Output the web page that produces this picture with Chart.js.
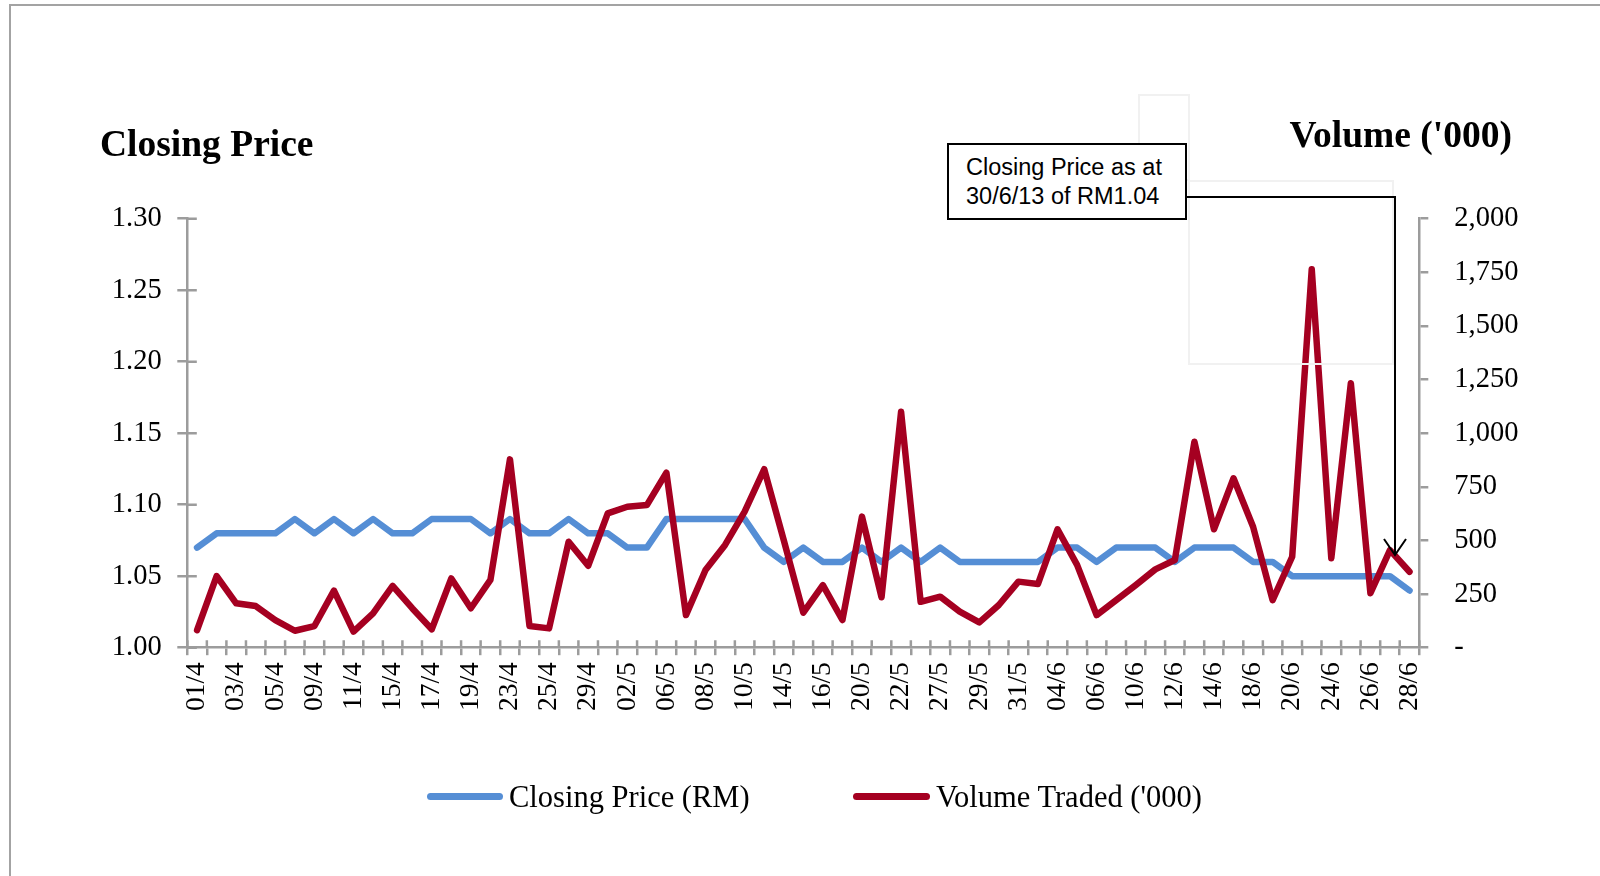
<!DOCTYPE html>
<html>
<head>
<meta charset="utf-8">
<script src="https://cdn.jsdelivr.net/npm/chart.js@4.4.0/dist/chart.umd.min.js"></script>
<style>
  html, body { margin: 0; padding: 0; background: #fff; overflow: hidden; }
  #wrap { position: relative; width: 1600px; height: 876px; }
  #myChart { position: absolute; left: 0; top: 0; }
  .frame { position: absolute; left: 9px; top: 4px; width: 1600px; height: 880px;
           border-top: 2px solid #a3a3a3; border-left: 2px solid #a3a3a3; }
  .ttl { position: absolute; font-family: 'Liberation Serif', 'Times New Roman', serif;
         font-weight: bold; font-size: 37.5px; line-height: 1; color: #000; white-space: nowrap; }
  .leg-line { position: absolute; height: 7px; border-radius: 4px; }
  .leg-txt { position: absolute; font-family: 'Liberation Serif', 'Times New Roman', serif;
             font-size: 30.5px; line-height: 1; color: #000; white-space: nowrap; }
  .note { position: absolute; left: 947px; top: 143px; width: 240px; height: 77px; box-sizing: border-box;
          border: 2px solid #000; background: #fff; padding: 8px 0 0 17px;
          font-family: 'Liberation Sans', Arial, sans-serif; font-size: 23.5px; line-height: 28.6px; color: #000; }
  .faint { position: absolute; border: 2px solid #f1f1f1; box-sizing: border-box; }
</style>
</head>
<body>
<div id="wrap">
  <canvas id="myChart" width="1600" height="876"></canvas>
  <div class="frame"></div>
  <div class="faint" style="left:1138px; top:94px; width:52px; height:87px;"></div>
  <div class="faint" style="left:1188px; top:180px; width:206px; height:185px;"></div>
  <div class="ttl" style="left:100px; top:125px;">Closing Price</div>
  <div class="ttl" style="right:88px; top:116px;">Volume ('000)</div>
  <div class="note">Closing Price as at<br>30/6/13 of RM1.04</div>
  <svg style="position:absolute; left:0; top:0;" width="1600" height="876">
    <polyline points="1187,197 1395,197 1395,555" fill="none" stroke="#000" stroke-width="2"/>
    <polyline points="1384,539 1395,555 1406,539" fill="none" stroke="#000" stroke-width="2"/>
  </svg>
  <div class="leg-line" style="left:427px; top:793px; width:76px; background:#558ed5;"></div>
  <div class="leg-txt" style="left:509px; top:782px;">Closing Price (RM)</div>
  <div class="leg-line" style="left:853px; top:793px; width:77px; background:#a50021;"></div>
  <div class="leg-txt" style="left:936px; top:782px;">Volume Traded ('000)</div>
</div>
<script>
const labels_day = ['01/4','02/4','03/4','04/4','05/4','08/4','09/4','10/4','11/4','12/4',
  '15/4','16/4','17/4','18/4','19/4','22/4','23/4','24/4','25/4','26/4',
  '29/4','30/4','02/5','03/5','06/5','07/5','08/5','09/5','10/5','13/5',
  '14/5','15/5','16/5','17/5','20/5','21/5','22/5','23/5','27/5','28/5',
  '29/5','30/5','31/5','03/6','04/6','05/6','06/6','07/6','10/6','11/6',
  '12/6','13/6','14/6','17/6','18/6','19/6','20/6','21/6','24/6','25/6',
  '26/6','27/6','28/6'];

const dataPrice = [1.07, 1.08, 1.08, 1.08, 1.08, 1.09, 1.08, 1.09, 1.08, 1.09,
  1.08, 1.08, 1.09, 1.09, 1.09, 1.08, 1.09, 1.08, 1.08, 1.09,
  1.08, 1.08, 1.07, 1.07, 1.09, 1.09, 1.09, 1.09, 1.09, 1.07,
  1.06, 1.07, 1.06, 1.06, 1.07, 1.06, 1.07, 1.06, 1.07, 1.06,
  1.06, 1.06, 1.06, 1.06, 1.07, 1.07, 1.06, 1.07, 1.07, 1.07,
  1.06, 1.07, 1.07, 1.07, 1.06, 1.06, 1.05, 1.05, 1.05, 1.05,
  1.05, 1.05, 1.04];

const dataVolume = [82, 334, 207, 194, 129, 79, 101, 266, 75, 160,
  288, 184, 86, 323, 184, 316, 878, 101, 90, 494,
  382, 626, 657, 665, 816, 152, 362, 479, 634, 832,
  502, 163, 292, 129, 611, 235, 1100, 214, 238, 168,
  118, 199, 308, 297, 552, 386, 152, 222, 292, 365,
  409, 960, 552, 790, 564, 222, 424, 1764, 417, 1233,
  254, 455, 354];

const axisColor = '#9c9c9c';
const serif = "'Liberation Serif', 'Times New Roman', serif";

// short tick marks on the inner side of the x axis and left axis
const innerTicks = {
  id: 'innerTicks',
  beforeDatasetsDraw(chart) {
    const ctx = chart.ctx;
    const x = chart.scales.x;
    const y = chart.scales.y;
    const area = chart.chartArea;
    const n = chart.data.labels.length;
    const w = (x.right - x.left) / n;
    ctx.save();
    ctx.strokeStyle = axisColor;
    ctx.lineWidth = 2.5;
    ctx.beginPath();
    for (let k = 0; k <= n; k++) {
      const px = x.left + k * w;
      ctx.moveTo(px, area.bottom);
      ctx.lineTo(px, area.bottom - 7.5);
    }
    y.ticks.forEach(function (t) {
      const py = y.getPixelForValue(t.value);
      ctx.moveTo(area.left, py);
      ctx.lineTo(area.left + 9.5, py);
    });
    ctx.stroke();
    ctx.restore();
  }
};

const dataChart = {
  labels: labels_day,
  datasets: [
    {
      label: 'Closing Price (RM)',
      data: dataPrice,
      yAxisID: 'y',
      borderColor: '#558ed5',
      borderWidth: 6.5,
      pointRadius: 0,
      tension: 0,
      fill: false,
      borderJoinStyle: 'round',
      borderCapStyle: 'round',
      order: 2
    }, {
      label: "Volume Traded ('000)",
      data: dataVolume,
      yAxisID: 'y1',
      borderColor: '#a50021',
      borderWidth: 6.5,
      pointRadius: 0,
      tension: 0,
      fill: false,
      borderJoinStyle: 'round',
      borderCapStyle: 'round',
      order: 1
    }
  ]
};

const config = {
  type: 'line',
  data: dataChart,
  plugins: [innerTicks],
  options: {
    responsive: false,
    animation: false,
    layout: {
      padding: { top: 218.7, bottom: 128.3, left: 0, right: 0 }
    },
    plugins: {
      legend: { display: false },
      tooltip: { enabled: false },
      title: { display: false }
    },
    scales: {
      x: {
        offset: true,
        grid: { offset: true, drawOnChartArea: false, color: axisColor, lineWidth: 2.5, tickLength: 7.5 },
        border: { color: axisColor, width: 2.5 },
        ticks: {
          autoSkip: false,
          minRotation: 90,
          maxRotation: 90,
          padding: 7,
          color: '#000',
          font: { family: serif, size: 27.5 },
          callback: function (v, i) {
            return i % 2 === 0 ? this.getLabelForValue(v) : '';
          }
        },
        afterFit: function (s) { s.height = 100; }
      },
      y: {
        position: 'left',
        min: 1.0,
        max: 1.3,
        grid: { drawOnChartArea: false, color: axisColor, lineWidth: 2.5, tickLength: 10 },
        border: { color: axisColor, width: 2.5 },
        ticks: {
          stepSize: 0.05,
          padding: 15.6,
          color: '#000',
          font: { family: serif, size: 28.5 },
          callback: function (v) { return Number(v).toFixed(2); }
        },
        afterFit: function (s) { s.width = 187.3; }
      },
      y1: {
        position: 'right',
        min: 0,
        max: 2000,
        grid: { drawOnChartArea: false, color: axisColor, lineWidth: 2.5, tickLength: 9 },
        border: { color: axisColor, width: 2.5 },
        ticks: {
          stepSize: 250,
          padding: 26,
          color: '#000',
          font: { family: serif, size: 28.5 },
          callback: function (v) { return v === 0 ? '-' : Number(v).toLocaleString('en-US'); }
        },
        afterFit: function (s) { s.width = 180.7; }
      }
    }
  }
};

const myChart = new Chart(
  document.getElementById('myChart'),
  config
);
</script>
</body>
</html>
